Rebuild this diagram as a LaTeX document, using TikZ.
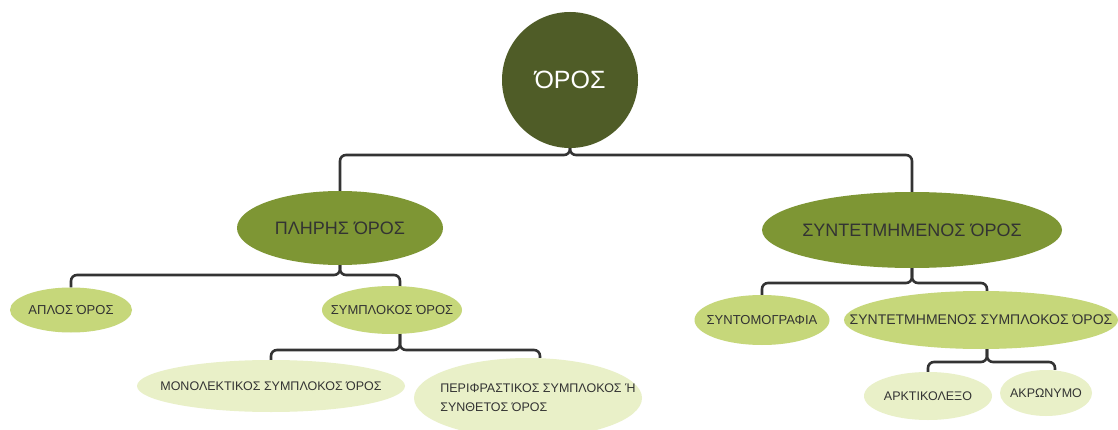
\documentclass[tikz,border=0pt]{standalone}
\usepackage{fontspec}
\setmainfont{Liberation Sans}
\usetikzlibrary{shapes.geometric}
\definecolor{rootc}{HTML}{4F5C27}
\definecolor{lvA}{HTML}{7E9634}
\definecolor{lvB}{HTML}{C6D77A}
\definecolor{lvC}{HTML}{E9F0C8}
\definecolor{txt}{HTML}{333333}
\definecolor{conc}{HTML}{333333}
\newcommand{\tx}[1]{\makebox[0pt][c]{#1}}
\tikzset{
  ell/.style={ellipse, inner sep=0pt, text=txt, align=center},
  lvone/.style={ell, fill=lvA, font=\fontsize{18}{21}\selectfont},
  lvtwo/.style={ell, fill=lvB, font=\fontsize{13}{15}\selectfont},
  lvthree/.style={ell, fill=lvC, font=\fontsize{12.5}{20}\selectfont},
  conn/.style={draw=conc, line width=2.6pt, rounded corners=6pt}
}
\begin{document}
\begin{tikzpicture}[x=1pt,y=-1pt]
\useasboundingbox[fill=white] (0,0) rectangle (1118,430);
% nodes
\node[circle, fill=rootc, minimum size=136pt, inner sep=0pt, text=white, font=\fontsize{25}{28}\selectfont] (root) at (570,80) {ΌΡΟΣ};
\node[lvone, minimum width=206pt, minimum height=74pt] (pl) at (340,228) {\tx{ΠΛΗΡΗΣ ΌΡΟΣ}};
\node[lvone, minimum width=300pt, minimum height=76pt] (sy) at (912,230) {\tx{ΣΥΝΤΕΤΜΗΜΕΝΟΣ ΌΡΟΣ}};
\node[lvtwo, minimum width=122pt, minimum height=45pt] (ap) at (71,310) {\tx{ΑΠΛΟΣ ΌΡΟΣ}};
\node[lvtwo, minimum width=140pt, minimum height=48pt] (sm) at (392,310) {\tx{ΣΥΜΠΛΟΚΟΣ ΌΡΟΣ}};
\node[lvtwo, minimum width=135pt, minimum height=50pt] (st) at (762,320) {\tx{ΣΥΝΤΟΜΟΓΡΑΦΙΑ}};
\node[lvtwo, minimum width=274pt, minimum height=58pt, font=\fontsize{14}{16}\selectfont] (ss) at (981,320) {\tx{ΣΥΝΤΕΤΜΗΜΕΝΟΣ ΣΥΜΠΛΟΚΟΣ ΌΡΟΣ}};
\node[lvthree, minimum width=268pt, minimum height=52pt] (mo) at (271,386) {\tx{ΜΟΝΟΛΕΚΤΙΚΟΣ ΣΥΜΠΛΟΚΟΣ ΌΡΟΣ}};
\node[lvthree, minimum width=228pt, minimum height=80pt] (pe) at (528,398) {\tx{\hspace*{20pt}\raisebox{-6pt}{\begin{tabular}{@{}l@{}}ΠΕΡΙΦΡΑΣΤΙΚΟΣ ΣΥΜΠΛΟΚΟΣ Ή\\[-1pt]ΣΥΝΘΕΤΟΣ ΌΡΟΣ\end{tabular}}}};
\node[lvthree, minimum width=128pt, minimum height=48pt] (ar) at (928,396) {\tx{ΑΡΚΤΙΚΟΛΕΞΟ}};
\node[lvthree, minimum width=92pt, minimum height=46pt] (ak) at (1046,393) {\tx{ΑΚΡΩΝΥΜΟ}};
% bus coordinates
\coordinate (b0) at (0,155);
\coordinate (b1) at (0,275);
\coordinate (b2) at (0,283);
\coordinate (b3) at (0,350);
\coordinate (b4) at (0,362);
% connectors
\draw[conn] (root.south) -- (root.south |- b0) -| (pl.north);
\draw[conn] (root.south) -- (root.south |- b0) -| (sy.north);
\draw[conn] (pl.south) -- (pl.south |- b1) -| (ap.north);
\draw[conn] (pl.south) -- (pl.south |- b1) -| ([xshift=8pt]sm.north);
\draw[conn] (sy.south) -- (sy.south |- b2) -| (st.north);
\draw[conn] (sy.south) -- (sy.south |- b2) -| ([xshift=6pt]ss.north);
\draw[conn] ([xshift=8pt]sm.south) -- ([xshift=8pt]sm.south |- b3) -| (mo.north);
\draw[conn] ([xshift=8pt]sm.south) -- ([xshift=8pt]sm.south |- b3) -| ([xshift=12pt]pe.north);
\draw[conn] ([xshift=6pt]ss.south) -- ([xshift=6pt]ss.south |- b4) -| (ar.north);
\draw[conn] ([xshift=6pt]ss.south) -- ([xshift=6pt]ss.south |- b4) -| ([xshift=9pt]ak.north);
\end{tikzpicture}
\end{document}
